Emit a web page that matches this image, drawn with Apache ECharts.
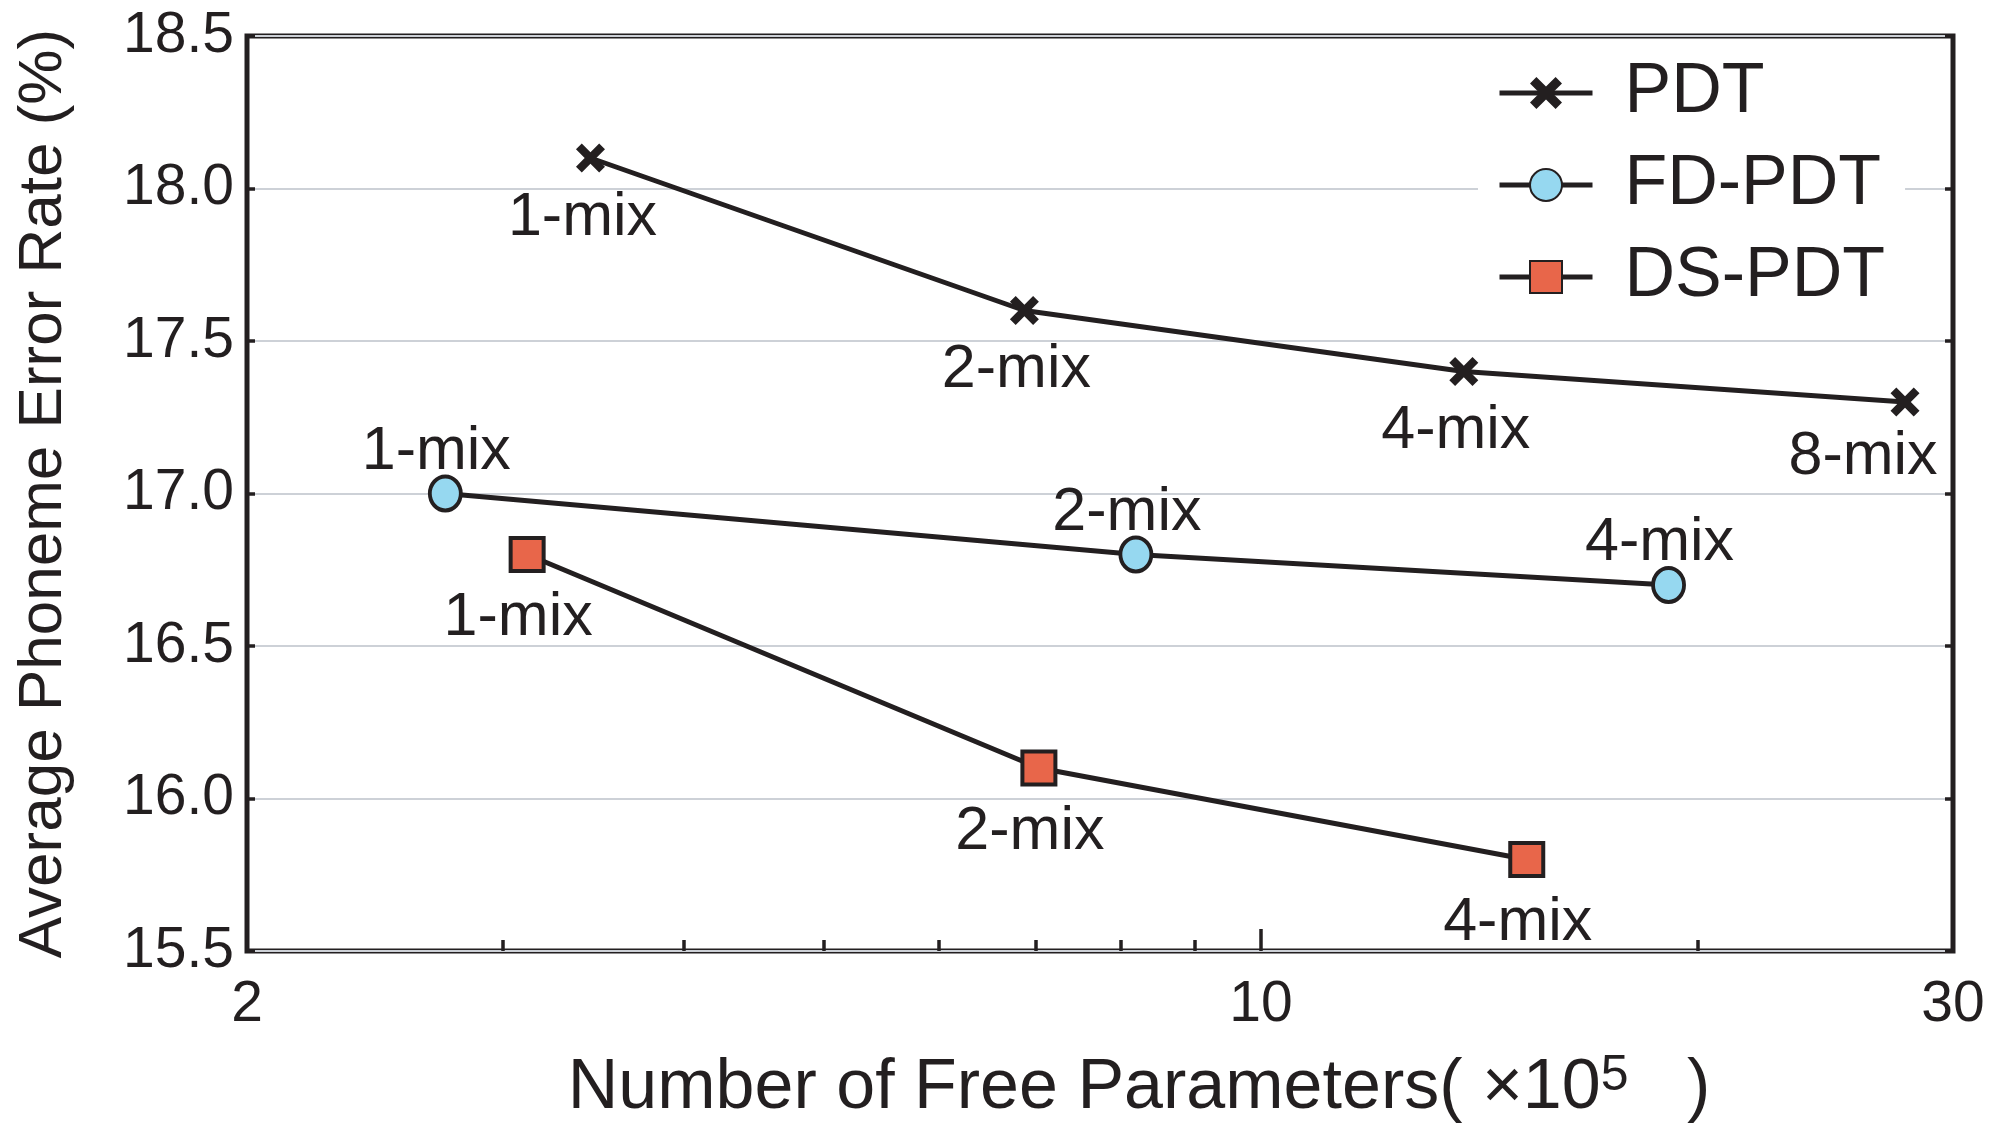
<!DOCTYPE html>
<html><head><meta charset="utf-8">
<script src="https://cdn.jsdelivr.net/npm/echarts@6/dist/echarts.min.js"></script>
<style>html,body{margin:0;padding:0;background:#fff}#c{width:2015px;height:1123px}</style>
</head><body><div id="c"></div>
<script>
const seriesNames = ['PDT', 'FD-PDT', 'DS-PDT'];
const pdtX = [3.45, 6.87, 13.8, 27.8];
const pdtY = [18.1, 17.6, 17.4, 17.3];
const pdtLabels = ['1-mix', '2-mix', '4-mix', '8-mix'];
const fdX = [2.74, 8.2, 19.1];
const fdY = [17.0, 16.8, 16.7];
const fdLabels = ['1-mix', '2-mix', '4-mix'];
const dsX = [3.12, 7.03, 15.25];
const dsY = [16.8, 16.1, 15.8];
const dsLabels = ['1-mix', '2-mix', '4-mix'];
const xMajorTicks = [2, 10, 30];
const xMinorTicks = [3, 4, 5, 6, 7, 8, 9, 20];
const yMin = 15.5, yMax = 18.5, yStep = 0.5;

const INK = '#231f20';
const FONT = 'Liberation Sans, Arial, sans-serif';
const crossPath = 'path://M0,2 L2,0 L5,3 L8,0 L10,2 L7,5 L10,8 L8,10 L5,7 L2,10 L0,8 L3,5 Z';

function pts(xs, ys, labels) {
  return xs.map((x, i) => ({ value: [x, ys[i]], name: labels[i] }));
}

const chart = echarts.init(document.getElementById('c'), null, { renderer: 'canvas' });
const labelBase = { show: true, formatter: p => p.name, fontSize: 61, color: INK, fontFamily: FONT };

const pdtData = pts(pdtX, pdtY, pdtLabels);
pdtData[3].label = { offset: [-42, -5] };

chart.setOption({
  animation: false,
  backgroundColor: '#fff',
  grid: { left: 247, right: 62, top: 36, bottom: 172, show: true, borderColor: INK, borderWidth: 5, backgroundColor: 'transparent', outerBoundsMode: 'none', containLabel: false },
  legend: {
    orient: 'vertical', left: 1478, top: 53, align: 'left',
    padding: [5, 20, 5, 19],
    backgroundColor: '#fff',
    itemWidth: 93, itemHeight: 40, itemGap: 22,
    lineStyle: { color: INK, width: 5 },
    textStyle: { fontSize: 70, color: INK, fontFamily: FONT, padding: [0, 0, 0, 27] },
    data: seriesNames
  },
  xAxis: [{
    type: 'log', logBase: 10, min: xMajorTicks[0], max: xMajorTicks[xMajorTicks.length - 1],
    axisLine: { show: false },
    axisTick: { show: true, inside: true, length: 22, lineStyle: { color: INK, width: 3.5 } },
    axisLabel: { fontSize: 57, color: INK, fontFamily: FONT, margin: 26, formatter: v => String(Math.round(v)) },
    splitLine: { show: false },
    minorTick: { show: false },
    name: 'Number of Free Parameters( ×10{sup|5}   )',
    nameLocation: 'middle', nameGap: 100,
    nameTextStyle: {
      fontSize: 70, color: INK, fontFamily: FONT, padding: [0, 0, 0, 78], lineHeight: 76,
      rich: { sup: { fontSize: 50, color: INK, fontFamily: FONT, verticalAlign: 'top', lineHeight: 40 } }
    }
  }, {
    type: 'value', position: 'bottom',
    min: Math.log10(xMajorTicks[0]), max: Math.log10(xMajorTicks[xMajorTicks.length - 1]),
    axisLine: { show: false },
    axisTick: { show: true, inside: true, length: 11, customValues: xMinorTicks.map(v => Math.log10(v)), lineStyle: { color: INK, width: 3.5 } },
    axisLabel: { show: false },
    splitLine: { show: false }
  }],
  yAxis: [{
    type: 'value', min: yMin, max: yMax, interval: yStep,
    axisLine: { show: false },
    axisTick: { show: true, inside: true, length: 8, lineStyle: { color: INK, width: 3.5 } },
    axisLabel: { fontSize: 57, color: INK, fontFamily: FONT, margin: 13, formatter: v => v.toFixed(1) },
    splitLine: { show: true, lineStyle: { color: '#cdd1d7', width: 2 } },
    name: 'Average Phoneme Error Rate (%)',
    nameLocation: 'middle', nameGap: 172,
    nameTextStyle: { fontSize: 62, color: INK, fontFamily: FONT }
  }, {
    type: 'value', position: 'right', min: yMin, max: yMax, interval: yStep,
    axisLine: { show: false },
    axisTick: { show: true, inside: true, length: 8, lineStyle: { color: INK, width: 3.5 } },
    axisLabel: { show: false },
    splitLine: { show: false }
  }],
  series: [{
    name: seriesNames[0], type: 'line', xAxisIndex: 0, yAxisIndex: 0,
    data: pdtData,
    symbol: crossPath, symbolSize: 29,
    itemStyle: { color: INK, borderWidth: 0 },
    lineStyle: { color: INK, width: 5 },
    label: Object.assign({}, labelBase, { position: 'bottom', distance: 15, offset: [-8, 0] }),
    z: 3
  }, {
    name: seriesNames[1], type: 'line', xAxisIndex: 0, yAxisIndex: 0,
    data: pts(fdX, fdY, fdLabels),
    symbol: 'circle', symbolSize: [31, 34],
    itemStyle: { color: '#96d8f0', borderColor: INK, borderWidth: 4 },
    lineStyle: { color: INK, width: 5 },
    label: Object.assign({}, labelBase, { position: 'top', distance: 0, offset: [-9, 8] }),
    z: 3
  }, {
    name: seriesNames[2], type: 'line', xAxisIndex: 0, yAxisIndex: 0,
    data: pts(dsX, dsY, dsLabels),
    symbol: 'rect', symbolSize: 33,
    itemStyle: { color: '#e8664a', borderColor: INK, borderWidth: 4 },
    lineStyle: { color: INK, width: 5 },
    label: Object.assign({}, labelBase, { position: 'bottom', distance: 15, offset: [-9, 0] }),
    z: 3
  }]
});
</script></body></html>
